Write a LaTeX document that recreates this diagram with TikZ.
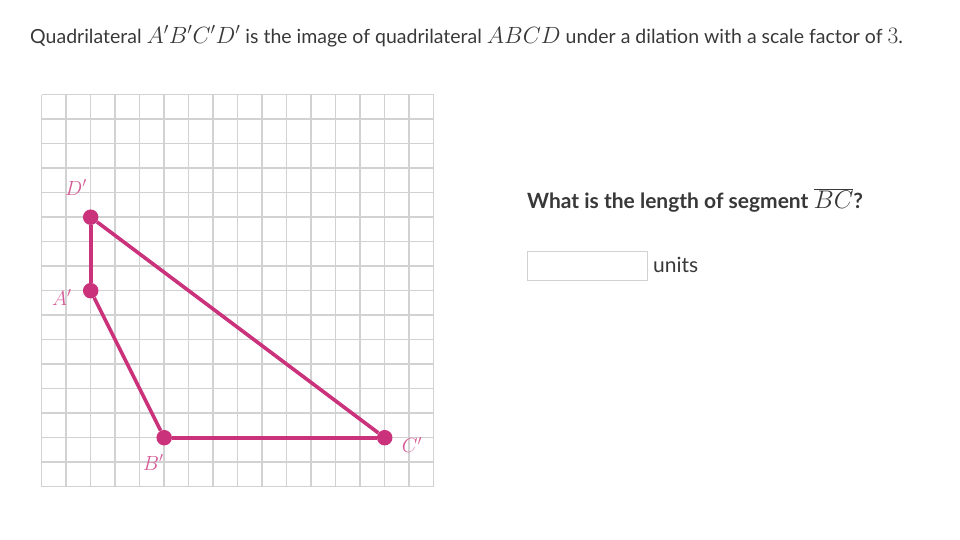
\RequirePackage{fix-cm}
\documentclass[tikz,border=0pt]{standalone}
\usepackage{fontspec}
\setmainfont{Lato}
\definecolor{pinkline}{HTML}{CA337C}
\definecolor{gridgray}{HTML}{D2D2D2}
\definecolor{textgray}{HTML}{383838}
% math set larger than the text around it
\newcommand{\kmath}[2]{{\fontsize{#1}{#1}\selectfont$#2$}}
\begin{document}
\begin{tikzpicture}
		[	x=1pt,y=-1pt,
		dot/.style={circle,fill=pinkline,inner sep=0pt,minimum size=15.5pt},
		side/.style={draw=pinkline,line width=3.6pt},
		vlabel/.style={text=pinkline!80,inner sep=0pt,anchor=base west,font=\fontsize{20.5}{22}\selectfont},
		plain/.style={text=textgray,inner sep=0pt,anchor=base west,font=\fontsize{19.5}{22}\selectfont}
		]
		\useasboundingbox (0,0) rectangle (960,540);
		\node[plain] (title) at (30,43.3) {Quadrilateral \kmath{23.5}{A'B'C'D'} is the image of quadrilateral \kmath{23.5}{ABCD} under a dilation with a scale factor of \kmath{23.5}{3}.};
\begin{scope}[shift={(41.7,486.7)},x=24.5pt,y=24.5pt]
		\foreach \k in {0,...,16}{
			\draw[gridgray,line width=1.5pt] (\k,0) -- (\k,16);
			\draw[gridgray,line width=1.5pt] (0,\k) -- (16,\k);
		}
		\node[dot] (A) at (2,8){};
		\node[dot] (B) at (5,2){};
		\node[dot] (C) at (14,2){};
		\node[dot] (D) at (2,11){};
		\draw[side] (D) -- (A);
		\draw[side] (A) -- (B);
		\draw[side] (B) -- (C);
		\draw[side] (C) -- (D);
\end{scope}
\node[vlabel] (labA) at (52,305){$A'$};
\node[vlabel] (labB) at (142.7,470){$B'$};
\node[vlabel] (labC) at (401.7,452.7){$C'$};
\node[vlabel] (labD) at (65,195){$D'$};
		\node[plain,font=\fontsize{21}{24}\selectfont\bfseries] (question) at (527,208.3) {What is the length of segment \kmath{25.5}{\overline{BC}}?};
		\node[draw=gridgray,line width=1pt,minimum width=120pt,minimum height=29pt] (answer) at (587,266.2){};
		\node[plain,font=\fontsize{21}{24}\selectfont] (units) at (653,272) {units};
\end{tikzpicture}
\end{document}
